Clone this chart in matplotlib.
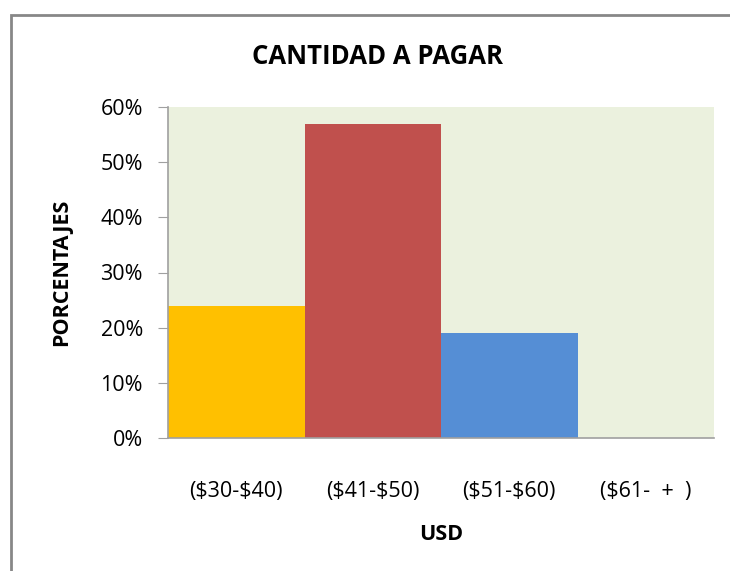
import matplotlib
matplotlib.use("Agg")
import matplotlib.pyplot as plt
from matplotlib.patches import Rectangle
from matplotlib.ticker import PercentFormatter

categories = ["($30-$40)", "($41-$50)", "($51-$60)", "($61-  +  )"]
values = [0.24, 0.57, 0.19, 0.0]
bar_colors = ["#FFC000", "#C0504D", "#558ED5", "#4F81BD"]
yticks = [0, 0.1, 0.2, 0.3, 0.4, 0.5, 0.6]

plt.rcParams['font.family'] = ['Open Sans', 'DejaVu Sans']
plt.rcParams['text.parse_math'] = False

W, H = 730, 571
fig = plt.figure(figsize=(W / 100, H / 100), dpi=100)
fig.patch.set_facecolor("white")

# outer chart border
fig.patches.append(Rectangle((11 / W, -0.05), 1.2, (H - 15) / H + 0.05,
                             transform=fig.transFigure, fill=False,
                             edgecolor="#878787", linewidth=2))

ax = fig.add_axes([168 / W, 1 - 438 / H, 546 / W, 331 / H])
ax.set_facecolor("#EBF1DE")
x = range(len(categories))
ax.bar(x, values, width=1.0, color=bar_colors, linewidth=0)
ax.set_xlim(-0.5, len(categories) - 0.5)
ax.set_ylim(0, 0.6)
ax.set_yticks(yticks)
ax.yaxis.set_major_formatter(PercentFormatter(1.0, decimals=0))
ax.set_xticks(list(x))
ax.set_xticklabels(categories)
for s in ["top", "right"]:
    ax.spines[s].set_visible(False)
for s in ["left", "bottom"]:
    ax.spines[s].set_color("#A0A0A0")
    ax.spines[s].set_linewidth(1.2)
ax.tick_params(axis="y", length=7, color="#A0A0A0", labelsize=15.5, pad=11)
ax.tick_params(axis="x", length=0, labelsize=15.5, pad=31)

fig.text(378 / W, 1 - 56 / H, "CANTIDAD A PAGAR", ha="center", va="center",
         fontsize=18.5, fontweight="bold")
fig.text(62 / W, 1 - 272 / H, "PORCENTAJES", ha="center", va="center",
         rotation=90, fontsize=15.5, fontweight="bold")
fig.text(441 / W, 1 - 535 / H, "USD", ha="center", va="center",
         fontsize=15.5, fontweight="bold")

fig.savefig("out.png", dpi=100)
